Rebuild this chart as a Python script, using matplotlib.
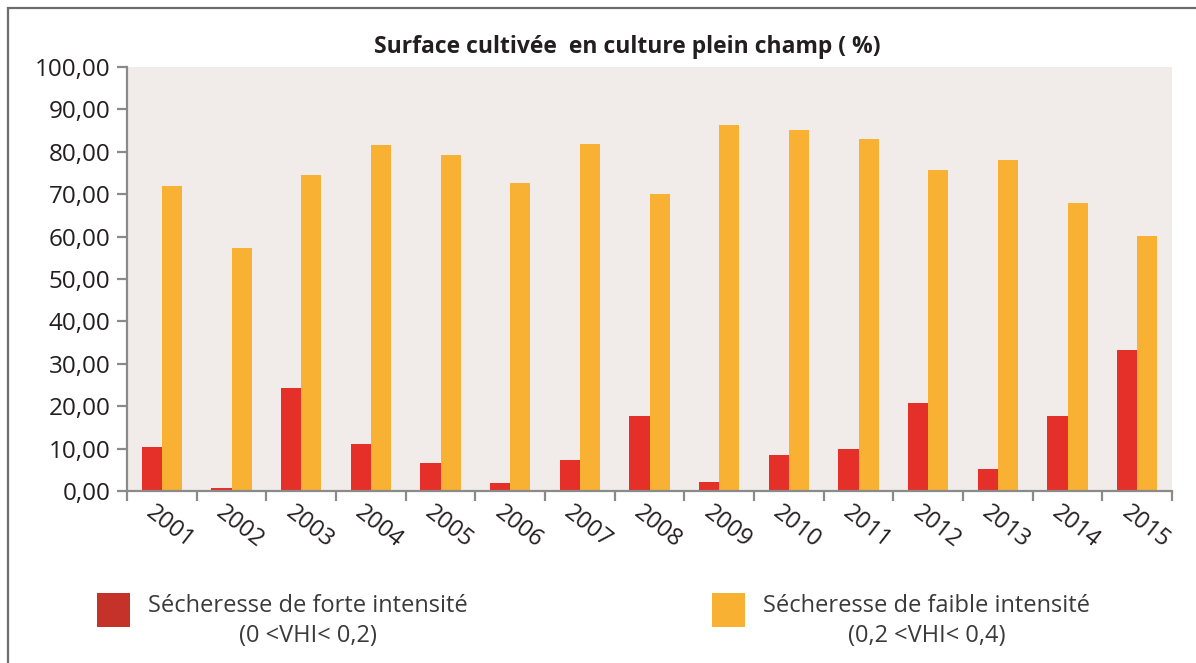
import matplotlib
matplotlib.use("Agg")
import matplotlib.pyplot as plt
from matplotlib.patches import Rectangle
from matplotlib.ticker import FuncFormatter, MultipleLocator
import numpy as np

years = ["2001", "2002", "2003", "2004", "2005", "2006", "2007", "2008",
         "2009", "2010", "2011", "2012", "2013", "2014", "2015"]
forte = [10.4, 0.8, 24.3, 11.2, 6.5, 1.8, 7.4, 17.7, 2.1, 8.6, 9.8, 20.8, 5.1, 17.7, 33.3]
faible = [72.0, 57.2, 74.5, 81.6, 79.3, 72.6, 81.8, 70.0, 86.3, 85.2, 83.0, 75.8, 78.1, 68.0, 60.2]

title = "Surface cultivée  en culture plein champ ( %)"
label_forte = "Sécheresse de forte intensité"
range_forte = "(0 <VHI< 0,2)"
label_faible = "Sécheresse de faible intensité"
range_faible = "(0,2 <VHI< 0,4)"

RED = "#e5302a"
ORANGE = "#f8b133"
RED_KEY = "#c4322a"
TEXT = "#231f20"
AXIS = "#8a8a8a"

plt.rcParams["font.family"] = ["Open Sans", "DejaVu Sans"]

W, H = 1196, 663
fig = plt.figure(figsize=(W / 100, H / 100), dpi=100)
fig.patch.set_facecolor("white")

def fx(px):
    return px / W

def fy(py):
    return 1 - py / H

# outer frame (top and left edges visible)
fig.patches.append(Rectangle((fx(8), fy(H + 20)), fx(W + 20), fy(8) - fy(H + 20),
                             transform=fig.transFigure, fill=False,
                             edgecolor="#6d6d6d", linewidth=1.6))

ax = fig.add_axes([fx(127), fy(491), fx(1172) - fx(127), fy(67) - fy(491)])
ax.set_facecolor("#f1ecea")

x = np.arange(len(years))
w = 0.29
ax.bar(x - w / 2, forte, width=w, color=RED, zorder=2)
ax.bar(x + w / 2, faible, width=w, color=ORANGE, zorder=2)

ax.set_xlim(-0.5, len(years) - 0.5)
ax.set_ylim(0, 100)
ax.yaxis.set_major_locator(MultipleLocator(10))
ax.yaxis.set_major_formatter(FuncFormatter(lambda v, p: f"{v:.2f}".replace(".", ",")))

for s in ["top", "right"]:
    ax.spines[s].set_visible(False)
for s in ["left", "bottom"]:
    ax.spines[s].set_color(AXIS)
    ax.spines[s].set_linewidth(1.6)

# x ticks sit on category boundaries, labels at category centres
ax.set_xticks(np.arange(-0.5, len(years)), minor=False)
ax.set_xticklabels([])
ax.tick_params(axis="x", which="major", length=7, width=1.6, color=AXIS, direction="out")
ax.set_xticks(x + 0.12, minor=True)
ax.set_xticklabels(years, minor=True, rotation=-38, ha="center", va="top",
                   fontsize=17, color=TEXT)
ax.tick_params(axis="x", which="minor", length=0, pad=7)

ax.tick_params(axis="y", length=7, width=1.6, color=AXIS, labelsize=17.5,
               labelcolor=TEXT, pad=5)

fig.text(fx(627), fy(47), title, ha="center", va="center", fontsize=16.5,
         fontweight="bold", color=TEXT)

# legend keys
for (kx, color, lab, rng) in [(97, RED_KEY, label_forte, range_forte),
                              (712, ORANGE, label_faible, range_faible)]:
    fig.patches.append(Rectangle((fx(kx), fy(627)), fx(33), fy(593) - fy(627),
                                 transform=fig.transFigure, facecolor=color,
                                 edgecolor="none"))
    t = fig.text(fx(kx + 51), fy(606), lab, ha="left", va="center",
                 fontsize=17, color="#3a3a3a")
    fig.canvas.draw()
    bb = t.get_window_extent()
    cx = (bb.x0 + bb.x1) / 2 / fig.bbox.width
    fig.text(cx, fy(636), rng, ha="center", va="center", fontsize=17,
             color="#3a3a3a")

fig.savefig("out.png", dpi=100)
